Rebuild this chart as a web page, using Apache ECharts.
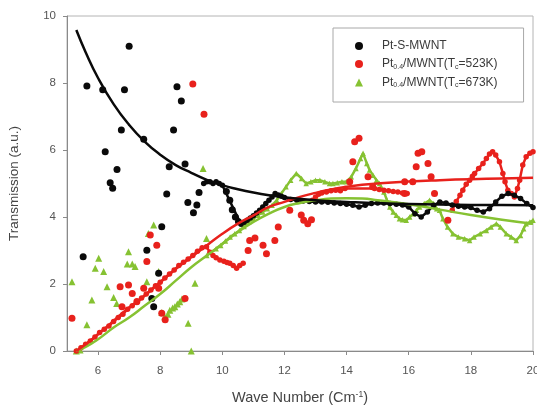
<!DOCTYPE html>
<html>
<head>
<meta charset="utf-8">
<script src="https://cdn.jsdelivr.net/npm/echarts@6/dist/echarts.min.js"></script>
<style>
  html, body { margin: 0; padding: 0; background: #fff; }
  #chart { width: 537px; height: 406px; }
</style>
</head>
<body>
<div id="chart"></div>
<script>
// Axis ticks
const xTicks = [6, 8, 10, 12, 14, 16, 18, 20];
const yTicks = [0, 2, 4, 6, 8, 10];

// Series names
const nameS = 'Pt-S-MWNT';
const name523 = 'Pt0.4/MWNT(Tc=523K)';
const name673 = 'Pt0.4/MWNT(Tc=673K)';

// Pt-S-MWNT: isolated points and continuous trace
const blackPoints = [
  [5.52,2.81],[5.64,7.91],[6.15,7.8],[6.23,5.95],[6.39,5.02],[6.47,4.86],[6.61,5.42],
  [6.75,6.6],[6.85,7.8],[7.0,9.1],[7.47,6.32],[7.57,3.01],[7.73,1.57],[7.79,1.32],
  [7.95,2.32],[8.05,3.71],[8.21,4.69],[8.29,5.5],[8.43,6.6],[8.54,7.89],[8.68,7.46],
  [8.8,5.58],[8.89,4.43],[9.07,4.13],[9.18,4.36],[9.25,4.73],
  [10.13,4.76],[10.24,4.5],[10.32,4.22],[10.42,4.0],[10.52,3.86]
];
const blackTrace = [
  [9.4,5.0],[9.5,5.05],[9.6,5.05],[9.7,5.0],[9.8,5.05],[9.9,5.0],[10.0,4.95],
  [10.6,3.78],[10.7,3.84],[10.8,3.9],[10.9,3.97],[11.0,4.04],[11.1,4.12],[11.2,4.2],
  [11.3,4.3],[11.4,4.4],[11.5,4.5],[11.6,4.6],[11.7,4.7],[11.8,4.66],[11.9,4.62],
  [12.0,4.58],[12.2,4.52],[12.4,4.5],[12.6,4.48],[12.8,4.46],[13.0,4.45],[13.2,4.45],
  [13.4,4.44],[13.6,4.42],[13.8,4.4],[14.0,4.38],[14.2,4.35],[14.4,4.3],[14.6,4.35],
  [14.8,4.4],[15.0,4.42],[15.2,4.42],[15.4,4.4],[15.6,4.38],[15.8,4.36],[16.0,4.3],
  [16.2,4.1],[16.4,4.0],[16.6,4.15],[16.8,4.35],[17.0,4.45],[17.2,4.42],[17.4,4.36],
  [17.6,4.32],[17.8,4.3],[18.0,4.28],[18.2,4.2],[18.4,4.15],[18.6,4.25],[18.8,4.45],
  [19.0,4.62],[19.2,4.7],[19.4,4.65],[19.6,4.55],[19.8,4.4],[20.0,4.28]
];
const blackFit = [
  [5.3,9.58],[5.6,8.92],[6.0,8.15],[6.5,7.37],[7.0,6.75],[7.5,6.25],[8.0,5.86],
  [8.5,5.55],[9.0,5.32],[9.5,5.11],[10.0,4.95],[10.5,4.83],[11.0,4.73],[11.5,4.65],
  [12.0,4.59],[13.0,4.5],[14.0,4.45],[15.0,4.41],[16.0,4.39],[17.0,4.37],[18.0,4.36],
  [19.0,4.355],[20.0,4.35]
];

// Pt0.4/MWNT (Tc=523K)
const redPoints = [
  [5.16,0.98],[6.71,1.92],[6.77,1.32],[6.98,1.97],[7.1,1.72],[7.25,1.48],[7.47,1.87],
  [7.57,2.67],[7.68,3.46],[7.89,3.16],[7.95,1.87],[8.05,1.13],[8.16,0.93],[8.8,1.57],
  [9.05,7.97],[9.41,7.07],
  [10.83,3.0],[10.88,3.3],[11.05,3.37],[11.31,3.16],[11.42,2.9],[11.69,3.3],[11.8,3.7],
  [12.17,4.2],[12.54,4.06],[12.62,3.9],[12.75,3.8],[12.87,3.92],
  [14.1,5.05],[14.2,5.65],[14.26,6.25],[14.4,6.35],[14.69,5.2],[14.84,4.9],
  [15.87,5.05],[15.87,4.7],[16.13,5.05],[16.24,5.5],[16.3,5.9],[16.42,5.95],[16.62,5.6],
  [16.72,5.2],[16.83,4.7],[17.26,3.9]
];
const redTrace = [
  [5.3,0.0],[5.45,0.1],[5.6,0.2],[5.75,0.3],[5.9,0.42],[6.05,0.55],[6.2,0.65],[6.35,0.75],
  [6.5,0.88],[6.65,1.0],[6.8,1.1],[6.95,1.25],[7.1,1.35],[7.25,1.45],[7.4,1.58],[7.55,1.7],
  [7.7,1.82],[7.85,1.95],[8.0,2.05],[8.15,2.18],[8.3,2.3],[8.45,2.42],[8.6,2.55],[8.75,2.65],
  [8.9,2.75],[9.05,2.85],[9.2,2.98],[9.35,3.08],[9.49,3.11],[9.6,2.95],[9.7,2.85],
  [9.8,2.78],[9.92,2.72],[10.05,2.68],[10.15,2.64],[10.24,2.62],[10.35,2.55],[10.46,2.47],
  [10.56,2.55],[10.67,2.62]
];
const redTrace2 = [
  [12.9,4.5],[13.0,4.6],[13.1,4.68],[13.2,4.72],[13.35,4.75],[13.5,4.78],[13.65,4.8],
  [13.8,4.78],[13.95,4.85],[14.9,4.85],[15.05,4.82],[15.2,4.8],[15.35,4.78],[15.5,4.76],
  [15.65,4.75],[15.8,4.72],[15.95,4.7]
];
const redTrace3 = [
  [17.4,4.2],[17.53,4.46],[17.65,4.65],[17.74,4.8],[17.85,4.98],[17.96,5.1],[18.05,5.22],
  [18.12,5.3],[18.25,5.45],[18.39,5.6],[18.5,5.75],[18.6,5.88],[18.7,5.95],[18.8,5.85],
  [18.92,5.65],[19.03,5.3],[19.1,5.05],[19.19,4.8],[19.3,4.7],[19.4,4.6],[19.5,4.85],
  [19.57,5.1],[19.67,5.55],[19.78,5.8],[19.9,5.9],[20.0,5.95]
];
const redFit = [
  [5.3,0.0],[5.6,0.2],[6.0,0.5],[6.5,0.9],[7.0,1.3],[7.5,1.65],[8.0,2.05],[8.5,2.45],
  [9.0,2.8],[9.5,3.15],[10.0,3.5],[10.5,3.8],[11.0,4.05],[11.5,4.3],[12.0,4.45],
  [12.5,4.6],[13.0,4.72],[13.5,4.82],[14.0,4.9],[14.5,4.96],[15.0,5.0],[16.0,5.06],
  [17.0,5.1],[18.0,5.13],[19.0,5.15],[20.0,5.17]
];

// Pt0.4/MWNT (Tc=673K)
const greenPoints = [
  [5.16,2.07],[5.3,0.0],[5.42,0.03],[5.64,0.78],[5.8,1.52],[5.91,2.47],[6.02,2.77],
  [6.18,2.37],[6.29,1.92],[6.5,1.6],[6.6,1.42],[6.94,2.6],[6.98,2.96],[7.1,2.6],
  [7.19,2.52],[7.57,2.07],[7.62,3.51],[7.79,3.76],[7.95,2.37],[8.9,0.83],[9.0,0.0],
  [9.12,2.02],[9.38,5.45],[9.49,3.36],
  [8.05,1.15],[8.15,1.02],[8.25,1.1],[8.31,1.22],[8.4,1.28],[8.47,1.32],[8.55,1.4],
  [8.63,1.47],[8.7,1.55]
];
const greenTrace = [
  [9.5,2.85],[9.65,2.95],[9.8,3.05],[9.95,3.15],[10.1,3.28],[10.25,3.4],[10.4,3.5],
  [10.55,3.6],[10.7,3.72],[10.85,3.85],[11.0,3.95],[11.15,4.05],[11.3,4.15],[11.45,4.25],
  [11.6,4.35],[11.75,4.5],[11.9,4.7],[12.05,4.9],[12.2,5.1],[12.38,5.3],[12.55,5.15],
  [12.7,5.0],[12.85,5.05],[13.0,5.1],[13.14,5.1],[13.3,5.05],[13.45,5.0],[13.56,5.0],
  [13.7,5.02],[13.85,5.05],[13.99,5.05],[14.15,5.2],[14.3,5.45],[14.45,5.75],[14.53,5.9],
  [14.65,5.6],[14.74,5.4],[14.85,5.25],[14.96,5.1],[15.06,5.0],[15.2,4.75],[15.3,4.5],
  [15.39,4.3],[15.5,4.15],[15.6,4.05],[15.7,3.95],[15.8,3.92],[15.92,3.9],[16.03,4.0],
  [16.15,4.1],[16.25,4.2],[16.35,4.3],[16.5,4.4],[16.67,4.5],[16.8,4.4],[16.9,4.25],
  [16.99,4.2],[17.1,3.95],[17.25,3.7],[17.42,3.5],[17.6,3.4],[17.8,3.35],[17.96,3.3],
  [18.1,3.4],[18.3,3.5],[18.5,3.6],[18.65,3.7],[18.82,3.8],[18.95,3.7],[19.14,3.5],
  [19.3,3.4],[19.46,3.3],[19.6,3.45],[19.7,3.65],[19.78,3.8],[19.9,3.85],[20.0,3.9]
];
const greenFit = [
  [5.3,0.0],[5.6,0.12],[6.0,0.35],[6.5,0.7],[7.0,1.0],[7.5,1.35],[8.0,1.7],[8.5,2.1],
  [9.0,2.5],[9.5,2.85],[10.0,3.2],[10.5,3.55],[11.0,3.85],[11.5,4.1],[12.0,4.3],
  [12.5,4.42],[13.0,4.5],[13.5,4.55],[14.0,4.56],[14.5,4.55],[15.0,4.5],[16.0,4.38],
  [17.0,4.22],[18.0,4.06],[19.0,3.92],[20.0,3.8]
];

const BLACK = '#0a0a0a';
const RED = '#e8211c';
const GREEN = '#86c232';
const FONT = 'Liberation Sans, Arial, sans-serif';

function markers(name, data, color, symbol, z) {
  return { name, type: 'scatter', data, symbol, symbolSize: 7,
    itemStyle: { color, opacity: 1 }, z, silent: true };
}
function trace(name, data, color, symbol, z) {
  return { name, type: 'line', data, symbol, symbolSize: 5.5, showSymbol: true,
    lineStyle: { color, width: 2.5 }, itemStyle: { color, borderWidth: 0, opacity: 1 }, z, silent: true };
}
function fit(data, color, z) {
  return { type: 'line', data, symbol: 'none', smooth: true,
    lineStyle: { color, width: 2.5 }, z, silent: true };
}

const legendLabels = {
  [nameS]: '{g|}Pt-S-MWNT',
  [name523]: '{g|}Pt{s|0.4}/MWNT(T{s|c}=523K)',
  [name673]: '{g|}Pt{s|0.4}/MWNT(T{s|c}=673K)'
};

const chart = echarts.init(document.getElementById('chart'), null, { renderer: 'canvas' });
chart.setOption({
  animation: false,
  backgroundColor: '#fff',
  grid: { left: 67, right: 4, top: 16, bottom: 55, outerBoundsMode: 'none',
    show: true, borderColor: '#b4b4b4', borderWidth: 1 },
  legend: {
    left: 333, top: 28, orient: 'vertical',
    padding: [12, 26, 13, 22],
    itemWidth: 8, itemHeight: 8, itemGap: 6,
    borderColor: '#a8a8a8', borderWidth: 1, backgroundColor: '#fff',
    data: [
      { name: nameS, icon: 'circle', itemStyle: { color: BLACK } },
      { name: name523, icon: 'circle', itemStyle: { color: RED } },
      { name: name673, icon: 'triangle', itemStyle: { color: GREEN } }
    ],
    formatter: n => legendLabels[n],
    textStyle: {
      fontFamily: FONT, fontSize: 12, color: '#3a3a3a',
      rich: {
        g: { width: 14 },
        s: { fontSize: 7, verticalAlign: 'bottom', padding: [6, 0, 0, 0], color: '#3a3a3a' }
      }
    }
  },
  xAxis: {
    type: 'value', min: 5, max: 20,
    name: 'Wave Number (Cm{sup|-1})', nameLocation: 'middle', nameGap: 39,
    nameTextStyle: { fontFamily: FONT, fontSize: 14.5, color: '#444',
      rich: { sup: { fontSize: 8.5, verticalAlign: 'top', padding: [0, 0, 7, 0], color: '#444' } } },
    axisLine: { lineStyle: { color: '#8a8a8a', width: 1 } },
    axisTick: { show: true, length: 4, lineStyle: { color: '#8a8a8a' }, customValues: xTicks },
    axisLabel: { customValues: xTicks, margin: 14, fontSize: 11.5, color: '#555', fontFamily: FONT },
    splitLine: { show: false }
  },
  yAxis: {
    type: 'value', min: 0, max: 10, interval: 2,
    name: 'Transmission (a.u.)', nameLocation: 'middle', nameGap: 46,
    nameTextStyle: { fontFamily: FONT, fontSize: 13.5, color: '#444' },
    axisLine: { show: true, lineStyle: { color: '#8a8a8a', width: 1 } },
    axisTick: { show: true, length: 4, lineStyle: { color: '#8a8a8a' }, customValues: yTicks },
    axisLabel: { customValues: yTicks, margin: 11, fontSize: 11.5, color: '#555', fontFamily: FONT },
    splitLine: { show: false }
  },
  series: [
    markers(name673, greenPoints, GREEN, 'triangle', 2),
    trace(name673, greenTrace, GREEN, 'triangle', 2),
    markers(name523, redPoints, RED, 'circle', 3),
    trace(name523, redTrace, RED, 'circle', 3),
    trace(name523, redTrace2, RED, 'circle', 3),
    trace(name523, redTrace3, RED, 'circle', 3),
    markers(nameS, blackPoints, BLACK, 'circle', 4),
    trace(nameS, blackTrace, BLACK, 'circle', 4),
    fit(greenFit, GREEN, 5),
    fit(redFit, RED, 6),
    fit(blackFit, BLACK, 7)
  ]
});
</script>
</body>
</html>
